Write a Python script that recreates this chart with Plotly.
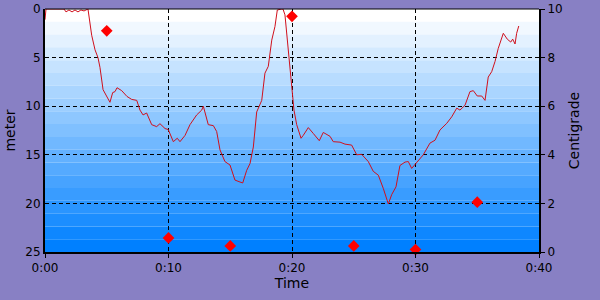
import plotly.graph_objects as go

# Depth profile (minutes, meters)
depth_time = [0.00, 0.08, 0.81, 1.54, 1.70, 1.94, 2.19, 2.43, 2.67, 2.91, 3.16, 3.48,
              3.78, 4.05, 4.29, 4.45, 4.70, 4.91, 5.26, 5.48, 5.67, 5.83, 6.21, 6.64,
              7.02, 7.43, 7.69, 7.94, 8.23, 8.64, 9.04, 9.31, 9.72, 9.98, 10.39, 10.71,
              10.93, 11.34, 11.74, 12.28, 12.69, 12.82, 13.04, 13.22, 13.63, 13.90, 14.17,
              14.57, 14.98, 15.38, 15.79, 16.01, 16.33, 16.60, 16.87, 17.14, 17.55, 17.81,
              18.08, 18.36, 18.62, 18.81, 19.17, 19.27, 19.43, 19.70, 19.98, 20.16, 20.38,
              20.73, 20.91, 21.32, 21.72, 22.21, 22.53, 23.08, 23.34, 23.89, 24.29, 24.83,
              25.24, 25.64, 26.18, 26.58, 26.99, 27.39, 27.80, 28.07, 28.42, 28.74, 29.15,
              29.42, 29.69, 30.10, 30.63, 31.17, 31.58, 31.98, 32.53, 32.93, 33.34, 33.60,
              34.01, 34.41, 34.68, 35.00, 35.36, 35.63, 35.89, 36.17, 36.44, 36.70, 37.11,
              37.43, 37.71, 37.87, 38.06, 38.19, 38.36]
depth_m = [1.1, 0.0, 0.0, 0.0, 0.3, 0.1, 0.3, 0.1, 0.3, 0.1, 0.2, 0.0,
           2.7, 4.2, 5.0, 6.0, 8.3, 8.8, 9.6, 8.6, 8.5, 8.1, 8.4, 9.0,
           9.3, 9.4, 10.4, 10.9, 10.7, 11.9, 12.1, 11.8, 12.3, 12.4, 13.65, 13.3,
           13.65, 13.0, 11.9, 10.9, 10.4, 10.0, 11.2, 11.9, 12.0, 12.6, 14.5,
           15.7, 16.05, 17.6, 17.8, 17.9, 16.6, 15.9, 14.2, 10.6, 9.4, 6.6,
           5.9, 3.2, 1.8, 0.1, 0.0, 0.0, 0.6, 4.2, 7.3, 10.4, 11.9,
           13.3, 13.0, 12.2, 12.8, 13.55, 12.7, 13.1, 13.65, 13.7, 13.9, 14.0,
           15.0, 14.95, 15.7, 16.7, 17.1, 18.45, 20.06, 19.1, 18.3, 16.1, 15.75,
           15.7, 16.4, 15.8, 15.0, 13.8, 13.5, 12.45, 11.76, 11.1, 10.2, 10.4,
           9.9, 8.5, 8.4, 8.95, 8.95, 9.4, 7.0, 6.45, 5.4, 4.05, 2.5,
           3.1, 3.4, 3.1, 3.6, 2.5, 1.75]

# Temperature samples (minutes, Centigrade)
temp_time = [5, 10, 15, 20, 25, 30, 35]
temp_c = [9.1, 0.58, 0.25, 9.7, 0.25, 0.1, 2.05]

x_tickvals = [0, 10, 20, 30, 40]
x_ticktext = ["0:00", "0:10", "0:20", "0:30", "0:40"]
y_tickvals = [0, 5, 10, 15, 20, 25]
y2_tickvals = [0, 2, 4, 6, 8, 10]

BG = "#8880c4"
FONT = dict(family="DejaVu Sans", size=12, color="#000000")

fig = go.Figure()
fig.add_trace(go.Scatter(x=depth_time, y=depth_m, mode="lines",
                         line=dict(color="#d0101c", width=1), yaxis="y",
                         showlegend=False, hoverinfo="skip", cliponaxis=True))
fig.add_trace(go.Scatter(x=temp_time, y=temp_c, mode="markers",
                         marker=dict(symbol="diamond", size=9, color="#ff0000",
                                     line=dict(width=0)),
                         yaxis="y2", showlegend=False, hoverinfo="skip",
                         cliponaxis=False))

# banded gradient background (styling)
n = 19
shapes = []
for i in range(n):
    f = i / (n - 1)
    r = int(round(255 + (0 - 255) * f))
    g = int(round(255 + (128 - 255) * f))
    shapes.append(dict(type="rect", xref="paper", yref="paper",
                       x0=0, x1=1, y0=1 - (i + 1) / n, y1=1 - i / n,
                       fillcolor=f"rgb({r},{g},255)", line=dict(width=0),
                       layer="below"))

grid = dict(showgrid=True, gridcolor="#000000", gridwidth=1, griddash="4px,3px")

fig.update_layout(
    width=600, height=300,
    margin=dict(l=45, r=61, t=9, b=48, autoexpand=False),
    paper_bgcolor=BG, plot_bgcolor="#ffffff",
    font=FONT,
    shapes=shapes,
    xaxis=dict(range=[0, 40], tickvals=x_tickvals, ticktext=x_ticktext,
               title=dict(text="Time", standoff=2), showline=True,
               linecolor="#000000", linewidth=2, mirror=False,
               ticks="outside", ticklen=4, tickcolor="#000000",
               zeroline=False, automargin=False, **grid),
    yaxis=dict(range=[25, 0], tickvals=y_tickvals,
               title=dict(text="meter", standoff=6), showline=True,
               linecolor="#000000", linewidth=2, ticks="",
               zeroline=False, automargin=False, **grid),
    yaxis2=dict(range=[0, 10], tickvals=y2_tickvals, overlaying="y", side="right",
                title=dict(text="Centigrade", standoff=8), showline=True,
                linecolor="#000000", linewidth=2, ticks="outside", ticklen=4,
                tickcolor="#000000", showgrid=False, zeroline=False,
                automargin=False),
)
# top border
fig.add_shape(type="line", xref="paper", yref="paper", x0=0, x1=1, y0=1, y1=1,
              line=dict(color="#000000", width=1), layer="above")

fig.write_html("out.html")
